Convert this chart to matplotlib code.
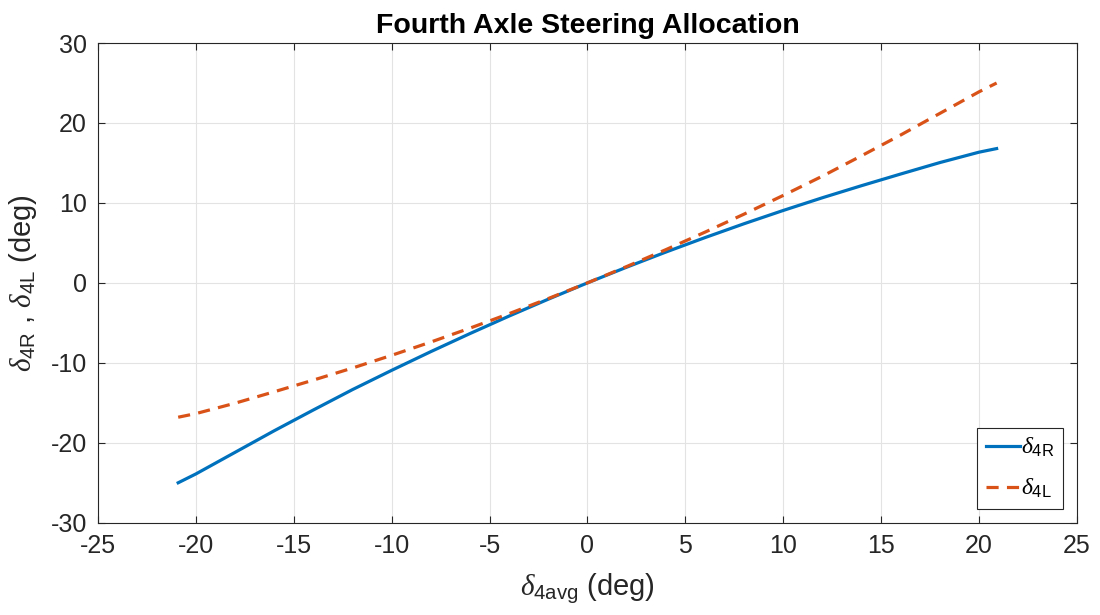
import matplotlib.pyplot as plt

plt.rcParams['font.family'] = ['Liberation Sans', 'DejaVu Sans']
plt.rcParams['mathtext.fontset'] = 'custom'
plt.rcParams['mathtext.rm'] = 'Liberation Sans'
plt.rcParams['mathtext.it'] = 'Liberation Serif:italic'
plt.rcParams['mathtext.bf'] = 'Liberation Sans:bold'
plt.rcParams['axes.unicode_minus'] = False

# average steer angle of the fourth axle (deg)
delta_avg = [-20.9, -20, -18, -16, -14, -12, -10, -8, -6, -4, -2, 0,
             2, 4, 6, 8, 10, 12, 14, 16, 18, 20, 20.9]
# right wheel angle
delta_4R = [-25.0, -23.9, -21.2, -18.5, -15.9, -13.35, -10.94, -8.60, -6.34, -4.15, -2.04, 0,
            1.96, 3.85, 5.66, 7.40, 9.06, 10.65, 12.16, 13.62, 15.05, 16.35, 16.8]
# left wheel angle
delta_4L = [-16.8, -16.35, -15.05, -13.62, -12.16, -10.65, -9.06, -7.40, -5.66, -3.85, -1.96, 0,
            2.04, 4.15, 6.34, 8.60, 10.94, 13.35, 15.9, 18.5, 21.2, 23.9, 25.0]

fig = plt.figure(figsize=(11, 6.15), dpi=100)
ax = fig.add_axes([0.089, 0.150, 0.890, 0.780])

ax.plot(delta_avg, delta_4R, color='#0072BD', lw=2.3, label=r'$\delta_{\mathrm{4R}}$')
ax.plot(delta_avg, delta_4L, color='#D95319', lw=2.3, ls=(0, (3.8, 2.6)),
        label=r'$\delta_{\mathrm{4L}}$')

ax.set_xlim(-25, 25)
ax.set_ylim(-30, 30)
ax.set_xticks(range(-25, 26, 5))
ax.set_yticks(range(-30, 31, 10))
ax.grid(True, color='#e3e3e3', lw=0.8)
ax.set_axisbelow(True)

ax.tick_params(direction='in', length=5, width=0.8, labelsize=18, colors='#262626',
               top=True, right=True, pad=8)
for s in ax.spines.values():
    s.set_color('#262626')
    s.set_linewidth(0.8)

ax.set_title('Fourth Axle Steering Allocation', fontsize=20.5, fontweight='bold', pad=7)
ax.set_xlabel(r'$\delta_{\mathrm{4avg}}$ (deg)', fontsize=21, color='#262626', labelpad=10)
ax.set_ylabel(r'$\delta_{\mathrm{4R}}$ , $\delta_{\mathrm{4L}}$ (deg)', fontsize=21,
              color='#262626', labelpad=8)

leg = ax.legend(loc='lower right', fontsize=17, handlelength=1.45, handletextpad=0.05,
                borderpad=0.35, labelspacing=0.75, fancybox=False, framealpha=1,
                borderaxespad=0.6)
leg.get_frame().set_edgecolor('#262626')
leg.get_frame().set_linewidth(0.8)

fig.savefig('out.png', dpi=100)
